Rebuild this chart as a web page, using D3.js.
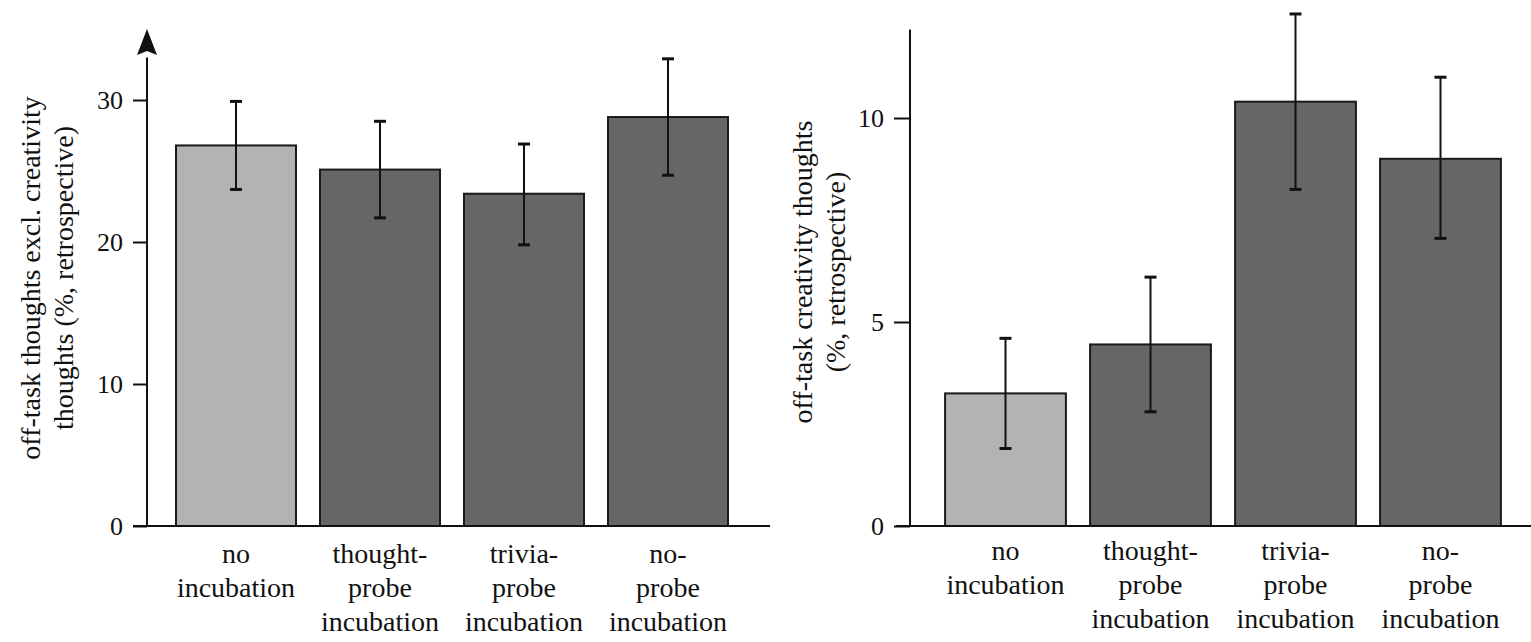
<!DOCTYPE html>
<html>
<head>
<meta charset="utf-8">
<script src="https://cdn.jsdelivr.net/npm/d3@7"></script>
</head>
<body style="margin:0">
<svg id="chart" width="1531" height="642"></svg>
<script>
// ---- data ----
const categories = [
  ["no", "incubation"],
  ["thought-", "probe", "incubation"],
  ["trivia-", "probe", "incubation"],
  ["no-", "probe", "incubation"]
];
const categoryKeys = ["no incubation", "thought-probe incubation", "trivia-probe incubation", "no-probe incubation"];
const barColors = ["#b3b3b3", "#666666", "#666666", "#666666"];

// left panel: off-task thoughts excl. creativity thoughts
const leftMeans = [26.8, 25.1, 23.4, 28.8];
const leftLow   = [23.7, 21.7, 19.8, 24.7];
const leftHigh  = [29.9, 28.5, 26.9, 32.9];
const leftTicks = [0, 10, 20, 30];
const leftTitle = ["off-task thoughts excl. creativity", "thoughts (%, retrospective)"];

// right panel: off-task creativity thoughts
const rightMeans = [3.25, 4.45, 10.4, 9.0];
const rightLow   = [1.9, 2.8, 8.25, 7.05];
const rightHigh  = [4.6, 6.1, 12.55, 11.0];
const rightTicks = [0, 5, 10];
const rightTitle = ["off-task creativity thoughts", "(%, retrospective)"];

const FONT = '"Liberation Serif"';
const svg = d3.select("#chart");

function serif(sel, size) {
  return sel.attr("font-family", "Liberation Serif")
    .attr("font-size", size)
    .style("font-family", FONT, "important")
    .style("font-size", size + "px", "important")
    .attr("fill", "#111");
}

function panel(cfg) {
  const g = svg.append("g");
  const y = d3.scaleLinear().domain(cfg.yDomain).range([cfg.y0, cfg.y1]);
  const x = d3.scaleBand().domain(categoryKeys).range(cfg.xRange)
    .paddingInner(1 / 6).paddingOuter(1 / 12);

  // y axis ticks
  const ax = g.append("g")
    .attr("transform", `translate(${cfg.axisX},0)`)
    .call(d3.axisLeft(y).tickValues(cfg.ticks).tickSize(cfg.tickLen).tickPadding(10).tickFormat(d3.format("d")));
  ax.attr("font-family", "Liberation Serif").attr("font-size", 26);
  ax.select(".domain").remove();
  ax.selectAll(".tick line").attr("stroke", "#111").attr("stroke-width", 2);
  serif(ax.selectAll(".tick text"), 26).attr("dy", "0.34em");

  // bars
  g.selectAll("rect.bar").data(cfg.means).join("rect")
    .attr("class", "bar")
    .attr("x", (d, i) => x(categoryKeys[i]))
    .attr("width", x.bandwidth())
    .attr("y", d => y(d))
    .attr("height", d => y(0) - y(d))
    .attr("fill", (d, i) => barColors[i])
    .attr("stroke", "#1a1a1a")
    .attr("stroke-width", 2);

  // error bars
  const eb = g.selectAll("g.err").data(cfg.means).join("g").attr("class", "err");
  const cx = i => x(categoryKeys[i]) + x.bandwidth() / 2;
  eb.append("line")
    .attr("x1", (d, i) => cx(i)).attr("x2", (d, i) => cx(i))
    .attr("y1", (d, i) => y(cfg.low[i])).attr("y2", (d, i) => y(cfg.high[i]))
    .attr("stroke", "#111").attr("stroke-width", 2);
  eb.append("line")
    .attr("x1", (d, i) => cx(i) - 6).attr("x2", (d, i) => cx(i) + 6)
    .attr("y1", (d, i) => y(cfg.low[i])).attr("y2", (d, i) => y(cfg.low[i]))
    .attr("stroke", "#111").attr("stroke-width", 3);
  eb.append("line")
    .attr("x1", (d, i) => cx(i) - 6).attr("x2", (d, i) => cx(i) + 6)
    .attr("y1", (d, i) => y(cfg.high[i])).attr("y2", (d, i) => y(cfg.high[i]))
    .attr("stroke", "#111").attr("stroke-width", 3);

  // y axis line
  g.append("line")
    .attr("x1", cfg.axisX).attr("x2", cfg.axisX)
    .attr("y1", y(0)).attr("y2", y(cfg.axisTop))
    .attr("stroke", "#111").attr("stroke-width", 2);
  if (cfg.arrow) {
    const tipY = y(cfg.arrowTip);
    g.append("path")
      .attr("d", `M${cfg.axisX},${tipY} L${cfg.axisX - 10},${tipY + 26} L${cfg.axisX},${tipY + 22} L${cfg.axisX + 10},${tipY + 26} Z`)
      .attr("fill", "#111");
  }
  // baseline
  g.append("line")
    .attr("x1", cfg.baseX0).attr("x2", cfg.baseX1)
    .attr("y1", y(0)).attr("y2", y(0))
    .attr("stroke", "#111").attr("stroke-width", 2);

  // category labels (one text element per line, directly in the svg)
  categories.forEach((lines, i) => {
    lines.forEach((ln, j) => {
      serif(svg.append("text"), 28)
        .attr("text-anchor", "middle")
        .attr("x", cx(i))
        .attr("y", cfg.labelY + j * 34)
        .text(ln);
    });
  });

  // axis title
  cfg.title.forEach((ln, j) => {
    serif(svg.append("text"), 28)
      .attr("text-anchor", "middle")
      .attr("transform", `translate(${cfg.titleX + j * 33},${cfg.titleY}) rotate(-90)`)
      .text(ln);
  });
}

panel({
  means: leftMeans, low: leftLow, high: leftHigh, ticks: leftTicks, title: leftTitle,
  yDomain: [0, 30], y0: 526, y1: 100,
  xRange: [164, 740], axisX: 147, tickLen: 14,
  axisTop: 33, arrow: true, arrowTip: 35,
  baseX0: 133, baseX1: 770,
  labelY: 563, titleX: 40, titleY: 278
});

panel({
  means: rightMeans, low: rightLow, high: rightHigh, ticks: rightTicks, title: rightTitle,
  yDomain: [0, 10], y0: 526, y1: 118,
  xRange: [933, 1513], axisX: 910, tickLen: 16,
  axisTop: 12.17, arrow: false,
  baseX0: 896, baseX1: 1531,
  labelY: 560, titleX: 812, titleY: 272
});
</script>
</body>
</html>
